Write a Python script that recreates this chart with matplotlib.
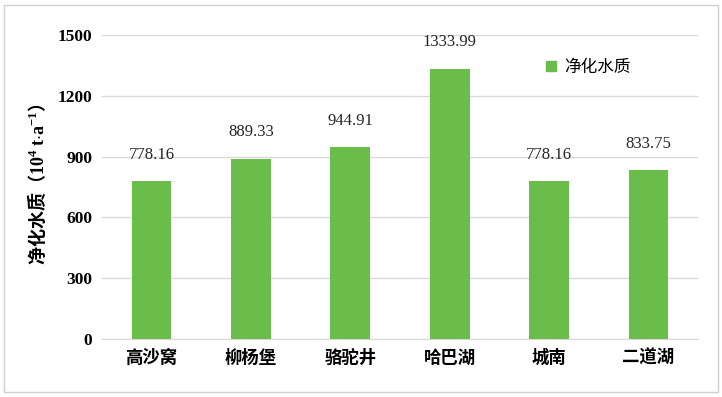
import matplotlib
matplotlib.use("Agg")
import matplotlib.pyplot as plt
from matplotlib.patches import Patch, Rectangle

sites = ["高沙窝", "柳杨堡", "骆驼井", "哈巴湖", "城南", "二道湖"]
purify = [778.16, 889.33, 944.91, 1333.99, 778.16, 833.75]
yticks = [0, 300, 600, 900, 1200, 1500]
series_name = "净化水质"

GREEN = "#6abd4a"
GRID = "#d9d9d9"
CJK = ["Noto Sans CJK SC", "DejaVu Sans"]
SERIF = ["Liberation Serif", "DejaVu Serif"]

plt.rcParams.update({"mathtext.fontset": "custom", "mathtext.rm": "Liberation Serif",
                     "mathtext.it": "Liberation Serif:italic", "mathtext.bf": "Liberation Serif:bold"})

fig = plt.figure(figsize=(7.22, 3.97), dpi=100)
ax = fig.add_axes([0.141, 0.146, 0.826, 0.766])
fig.add_artist(Rectangle((0.006, 0.012), 0.988, 0.976, transform=fig.transFigure,
                         fill=False, ec="#d0d0d0", lw=1))

x = range(len(sites))
ax.bar(x, purify, width=0.4, color=GREEN, zorder=3)
for xi, v in zip(x, purify):
    ax.annotate(f"{v:.2f}", (xi, v), xytext=(0, 19), textcoords="offset points",
                ha="center", va="center", fontsize=12, family=SERIF, color="#262626")

ax.set_xlim(-0.5, len(sites) - 0.5)
ax.set_ylim(0, 1500)
ax.set_yticks(yticks)
ax.set_yticklabels([str(t) for t in yticks], family=SERIF, fontweight="bold", fontsize=12.5)
ax.set_xticks(list(x))
ax.set_xticklabels(sites, family=CJK, fontweight="bold", fontsize=12.5)
ax.tick_params(length=0, pad=7)
ax.grid(axis="y", color=GRID, lw=1, zorder=0)
for s in ["top", "right", "left"]:
    ax.spines[s].set_visible(False)
ax.spines["bottom"].set_color(GRID)

ax.set_ylabel("净化水质（$\\mathbf{10^{4}\\ t{\\cdot}a^{-1}}$）", family=CJK,
              fontweight="bold", fontsize=13)
ax.yaxis.set_label_coords(-0.09, 0.51)

ax.legend(handles=[Patch(color=GREEN, label=series_name)], loc="center",
          bbox_to_anchor=(0.815, 0.83), bbox_transform=fig.transFigure, frameon=False,
          handlelength=0.6, handleheight=0.6, handletextpad=0.5,
          prop={"family": "Noto Sans CJK SC", "size": 12})

fig.savefig("out.png", dpi=100)
